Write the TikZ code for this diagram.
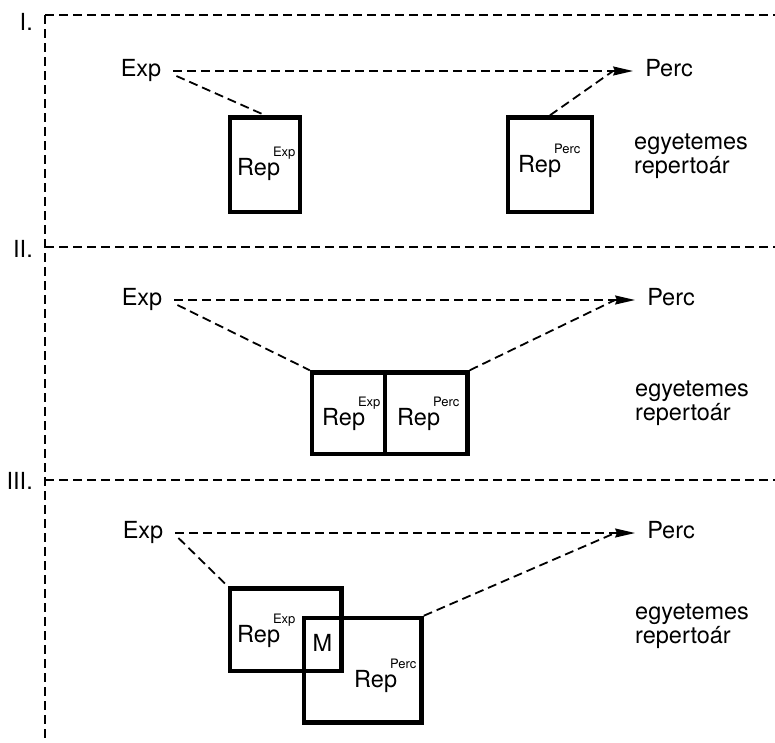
\documentclass[tikz,border=0pt]{standalone}
\usepackage{fontspec}
\setmainfont{TeX Gyre Heros}
\usetikzlibrary{arrows.meta}
\newcommand\repsup[1]{Rep\kern-7pt\raisebox{19pt}{\fontsize{13}{13}\selectfont #1}}
\begin{document}
\begin{tikzpicture}[x=1pt,y=-1pt,
  txt/.style={font=\fontsize{23.5}{24}\selectfont, inner sep=0pt, text height=16.8pt, text depth=4.9pt},
  replab/.style={font=\fontsize{23.5}{24}\selectfont, inner sep=0pt},
  univ/.style={font=\fontsize{23.5}{24}\selectfont, inner sep=0pt, align=left, anchor=west},
  frame/.style={line width=2pt, dash pattern=on 9pt off 5pt},
  link/.style={line width=1.8pt, dash pattern=on 9pt off 5pt},
  arrowlink/.style={link, -{Stealth[length=20pt,width=9pt,inset=2pt]}, shorten <=12pt, shorten >=12pt},
  repbox/.style 2 args={draw, line width=4.5pt, inner sep=0pt, minimum width=#1, minimum height=#2}
]
\useasboundingbox (0,0) rectangle (775,742);

% frame
\draw[frame] (45,15) -- (775,15);
\draw[frame] (45,15) -- (45,742);
\draw[frame] (45,247) -- (775,247);
\draw[frame] (45,480) -- (775,480);
\node[replab, anchor=base east] (lI) at (33,30) {I.};
\node[replab, anchor=base east] (lII) at (33,257) {II.};
\node[replab, anchor=base east] (lIII) at (33,489) {III.};

% ---------- I ----------
\node[txt] (expI) at (141,71) {Exp};
\node[txt] (percI) at (669,71) {Perc};
\coordinate (sI) at ([xshift=15pt,yshift=-5pt]expI.east);
\coordinate (jI) at ([xshift=-32pt]percI.west);
\node[repbox={70pt}{94.5pt}] (boxExpI) at (265,164.75) {};
\node[repbox={84pt}{94.5pt}] (boxPercI) at (550,164.75) {};
\node[replab, anchor=base west] (repExpI) at (237,175) {\repsup{Exp}};
\node[replab, anchor=base west] (repPercI) at (518,172) {\repsup{Perc}};
\node[univ] (univI) at (634,156.5) {egyetemes\\repertoár};
\draw[arrowlink] (expI.east) -- (percI.west);
\draw[link] (sI) -- (boxExpI.north);
\draw[link] (boxPercI.north) -- (jI);

% ---------- II ----------
\node[txt] (expII) at (142,300) {Exp};
\node[txt] (percII) at (671,300) {Perc};
\coordinate (sII) at ([xshift=15pt,yshift=-5pt]expII.east);
\coordinate (jII) at ([xshift=-32pt]percII.west);
\node[repbox={73pt}{81.5pt}] (boxExpII) at (348.5,413.25) {};
\node[repbox={82.5pt}{81.5pt}] (boxPercII) at (426.25,413.25) {};
\node[replab, anchor=base west] (repExpII) at (322,425) {\repsup{Exp}};
\node[replab, anchor=base west] (repPercII) at (397,425) {\repsup{Perc}};
\node[univ] (univII) at (635,403.5) {egyetemes\\repertoár};
\draw[arrowlink] (expII.east) -- (percII.west);
\draw[link] (sII) -- (boxExpII.north west);
\draw[link] (boxPercII.north east) -- (jII);

% ---------- III ----------
\node[txt] (expIII) at (143,533) {Exp};
\node[txt] (percIII) at (671,533) {Perc};
\coordinate (sIII) at ([xshift=15pt,yshift=-5pt]expIII.east);
\coordinate (jIII) at ([xshift=-32pt]percIII.west);
\node[repbox={111.5pt}{82.5pt}] (boxExpIII) at (285.75,629.75) {};
\node[repbox={117.5pt}{104.5pt}] (boxPercIII) at (362.75,670.25) {};
\node[replab, anchor=base west] (repExpIII) at (237,642) {\repsup{Exp}};
\node[replab, anchor=base west] (repPercIII) at (354,687) {\repsup{Perc}};
\node[replab, anchor=base] (mIII) at (322.5,651) {M};
\node[univ] (univIII) at (635,626.5) {egyetemes\\repertoár};
\draw[arrowlink] (expIII.east) -- (percIII.west);
\draw[link] (sIII) -- (boxExpIII.north west);
\draw[link] (boxPercIII.north east) -- (jIII);
\end{tikzpicture}
\end{document}
